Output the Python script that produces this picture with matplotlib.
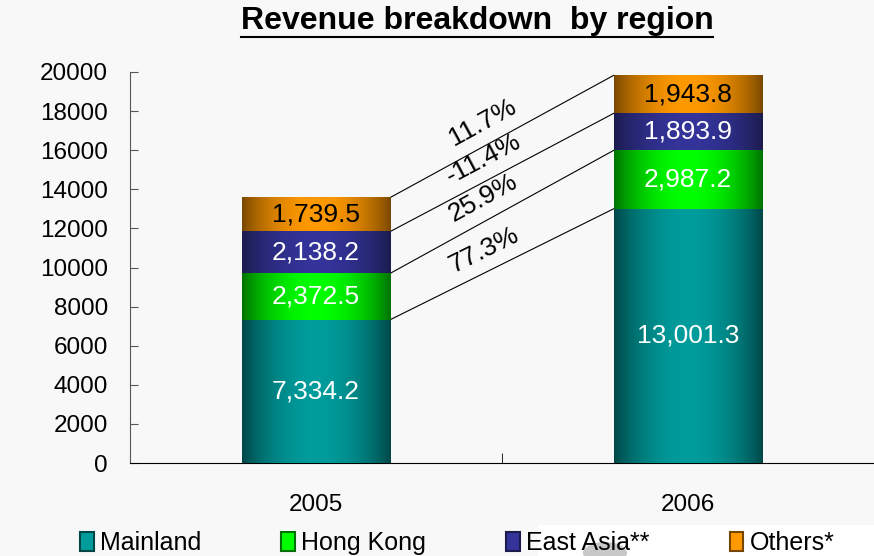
## Startup
##############
import numpy as np
import matplotlib
matplotlib.use("Agg")
import matplotlib.pyplot as plt
from matplotlib.patches import Rectangle, Ellipse, Patch

plt.rcParams["font.family"] = ["Liberation Sans", "DejaVu Sans"]

## Data
##############
years = ["2005", "2006"]
regions = ["Mainland", "Hong Kong", "East Asia**", "Others*"]
mainland = [7334.2, 13001.3]
hong_kong = [2372.5, 2987.2]
east_asia = [2138.2, 1893.9]
others = [1739.5, 1943.8]
yticks = list(range(0, 20001, 2000))

series = [mainland, hong_kong, east_asia, others]
# (edge colour, centre colour, label colour)
styles = [("#004646", "#009c9c", "white"),
          ("#007000", "#00ff00", "white"),
          ("#1b1b4e", "#34349a", "white"),
          ("#774600", "#ff9900", "black")]

## Figure
##############
bg = "#f8f8f8"
fig = plt.figure(figsize=(8.74, 5.56), dpi=100, facecolor=bg)
ax = fig.add_axes([130/874, 1-463/556, 744/874, 391/556], facecolor=bg)
ax.set_xlim(-0.5, 1.5)
ax.set_ylim(0, 20000)

def gradient(edge, centre, n=200):
    e = np.array(matplotlib.colors.to_rgb(edge))
    c = np.array(matplotlib.colors.to_rgb(centre))
    t = np.linspace(0, 1, n)
    w = np.sin(np.pi * t) ** 0.8
    return (e[None, :] + (c - e)[None, :] * w[:, None])[None, :, :]

x = np.arange(len(years))
width = 0.4
bottom = np.zeros(len(years))
tops = []
for vals, (edge, centre, tc) in zip(series, styles):
    bars = ax.bar(x, vals, width, bottom=bottom, color=centre, linewidth=0, zorder=2)
    img = gradient(edge, centre)
    for b, v, bt in zip(bars, vals, bottom):
        x0, y0 = b.get_x(), b.get_y()
        im = ax.imshow(img, extent=[x0, x0 + b.get_width(), y0, y0 + b.get_height()],
                       aspect="auto", zorder=3, interpolation="bilinear")
        im.set_clip_path(b)
        ax.text(b.get_x() + b.get_width()/2, bt + v/2, f"{v:,.1f}", ha="center", va="center",
                color=tc, fontsize=19, zorder=4)
    bottom = bottom + np.array(vals)
    tops.append(bottom.copy())
ax.set_xlim(-0.5, 1.5)
ax.set_ylim(0, 20000)

# Connector lines and growth labels
for vals, top in zip(series, tops):
    xa, xb = x[0] + width/2, x[1] - width/2
    ax.plot([xa, xb], [top[0], top[1]], color="black", lw=0.8, zorder=1)
    pa = ax.transData.transform((xa, top[0]))
    pb = ax.transData.transform((xb, top[1]))
    ang = np.degrees(np.arctan2(pb[1] - pa[1], pb[0] - pa[0]))
    f = 0.46
    px, py = xa + f * (xb - xa), top[0] + f * (top[1] - top[0])
    growth = (vals[1] / vals[0] - 1) * 100
    off = 6.5
    ax.annotate(f"{growth:.1f}%", (px, py), xytext=(-off * np.sin(np.radians(ang)), off * np.cos(np.radians(ang))),
                textcoords="offset points", rotation=ang, rotation_mode="anchor",
                ha="center", va="bottom", fontsize=19, zorder=4)

## Axes styling
##############
for s in ["top", "right"]:
    ax.spines[s].set_visible(False)
ax.spines["left"].set_color("#555555")
ax.spines["bottom"].set_color("black")
ax.set_yticks(yticks)
ax.set_yticklabels([str(t) for t in yticks], fontsize=17.5)
ax.tick_params(axis="y", direction="in", length=6, pad=16, color="#555555")
ax.set_xticks(x)
ax.set_xticklabels(years, fontsize=17.5)
ax.tick_params(axis="x", length=0, pad=22)
ax.set_xticks([0.5], minor=True)
ax.tick_params(axis="x", which="minor", direction="in", length=7, color="black")

## Title
##############
fig.text(477/874, 1-21/556, "Revenue breakdown  by region", ha="center", va="center",
         fontsize=23, fontweight="bold")
fig.add_artist(plt.Line2D([241/874, 713/874], [1-37/556, 1-37/556], color="black", lw=1.5))

## Legend
##############
fig.add_artist(Rectangle((538/874, 0), 336/874, 31/556, transform=fig.transFigure,
                         facecolor="white", edgecolor="none", zorder=0))
fig.add_artist(Ellipse((605/874, 3/556), 44/874, 22/556, transform=fig.transFigure,
                       facecolor="#c8c8c8", edgecolor="none", zorder=0))
handles = [Patch(facecolor=st[1], edgecolor=st[0], linewidth=1.5) for st in styles]
fig.legend(handles, regions, loc="center left", bbox_to_anchor=(70/874, 1-543/556), ncol=4,
           frameon=False, fontsize=18, handlelength=0.55, handleheight=0.8,
           handletextpad=0.25, columnspacing=3.2, borderaxespad=0)

plt.savefig("out.png", dpi=100, facecolor=bg)
